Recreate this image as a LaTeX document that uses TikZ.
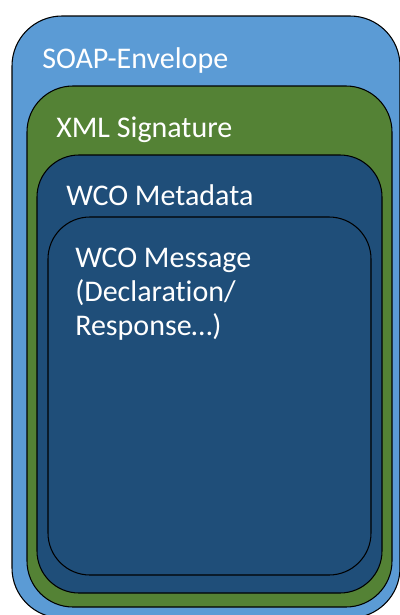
\documentclass[tikz,border=0pt]{standalone}
\usepackage{fontspec}
\setmainfont{Carlito}[Ligatures=NoCommon]
\definecolor{soapblue}{HTML}{5B9BD5}
\definecolor{siggreen}{HTML}{548235}
\definecolor{wcoblue}{HTML}{1F4E79}
\begin{document}
\begin{tikzpicture}[x=0.75pt,y=-0.75pt,
  layer/.style={draw=black,line width=0.8pt},
  lbl/.style={text=white,font=\fontsize{22.5}{25.5}\selectfont,anchor=base west,inner sep=0pt,align=left}]
\useasboundingbox (0,0) rectangle (400,615);
\begin{scope}
\clip (0,0) rectangle (400,615);
\draw[layer,fill=soapblue,rounded corners=50*0.75pt] (12,16) rectangle (400,618);
\draw[layer,fill=siggreen,rounded corners=46*0.75pt] (27,86) rectangle (392,607);
\draw[layer,fill=wcoblue,rounded corners=42*0.75pt] (37,155) rectangle (382,593);
\draw[layer,fill=wcoblue,rounded corners=42*0.75pt] (48,217) rectangle (371,575);
\end{scope}
\node[lbl] (soap) at (42,68) {SOAP-Envelope};
\node[lbl] (sig) at (56,137) {XML Signature};
\node[lbl] (meta) at (66,205) {WCO Metadata};
\node[lbl] (msg) at (75,335) {WCO Message\\(Declaration/\\Response…)};
\end{tikzpicture}
\end{document}
